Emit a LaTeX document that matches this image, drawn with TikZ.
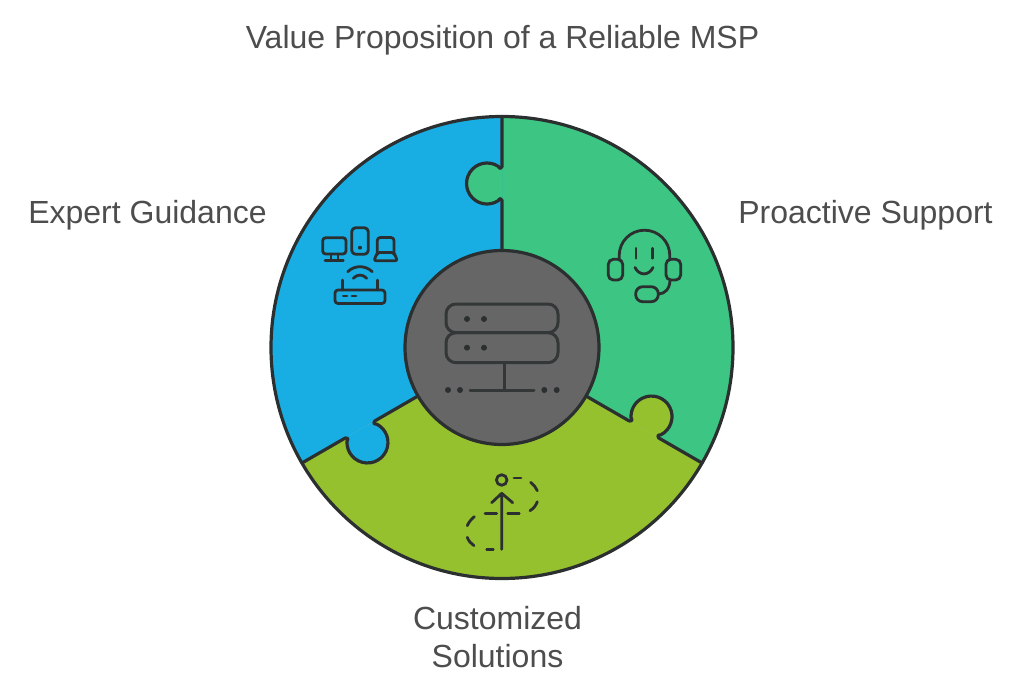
\documentclass[tikz,border=0pt]{standalone}
\usepackage{fontspec}
\setmainfont{Liberation Sans}
\definecolor{tabblue}{HTML}{18AEE3}
\definecolor{tabgreen}{HTML}{3CC583}
\definecolor{tablime}{HTML}{95C12F}
\definecolor{hubgrey}{HTML}{666666}
\definecolor{inkdark}{HTML}{2B2F2F}
\definecolor{labelgrey}{HTML}{4D4D4D}
\tikzset{
	seamline/.style={draw=inkdark,line width=3.2pt,line join=round},
	iconline/.style={draw=inkdark,line width=3pt,line cap=round,line join=round},
	iconthin/.style={draw=inkdark,line width=2.8pt,line cap=round,line join=round},
	labeltext/.style={text=labelgrey,font=\fontsize{32}{38}\selectfont,align=center,inner sep=0pt}
}
\newcommand{\tabcurve}{.. controls (0,178.5) and (-2.5,178.5) .. (-3.8,181.2) arc[start angle=57,end angle=303,radius=20.5] .. controls (-2.5,149.5) and (0,149.5) .. (0,147)}
\begin{document}
\begin{tikzpicture}[x=1pt,y=1pt]
	\useasboundingbox (-502,-348.5) rectangle (522,347.5);
	% pieces
	\foreach \r/\c in {0/tabgreen,-120/tablime,120/tabblue}{
		\begin{scope}[rotate=\r]
			\fill[\c] (0,0) -- (90:231) arc[start angle=90,end angle=-30,radius=231] -- cycle;
		\end{scope}
	}
	\foreach \r/\c in {0/tabgreen,-120/tablime,120/tabblue}{
		\begin{scope}[rotate=\r]
			\fill[\c] (0,181) \tabcurve -- cycle;
			\draw[seamline] (0,231) -- (0,181) \tabcurve -- (0,90);
		\end{scope}
	}
	\draw[seamline] (0,0) circle (231);
	\filldraw[seamline,fill=hubgrey] (0,0) circle (97);
	% server
	\draw[iconline,draw=inkdark!85!hubgrey,rounded corners=10] (-56,14.8) rectangle (56,43.5);
	\draw[iconline,draw=inkdark!85!hubgrey,rounded corners=10] (-56,-15.2) rectangle (56,14.8);
	\foreach \x in {-35,-18}{
		\foreach \y in {28.5,-0.2} {
			\fill[inkdark] (\x,\y) circle (3);
	}}
	\foreach \x in {-54,-42,42.3,54.7}{
		\fill[inkdark] (\x,-42.5) circle (3);
	}
	\draw[iconline,draw=inkdark!85!hubgrey] (2.7,-15.2) -- (2.7,-43) (-32,-43) -- (32,-43);
	% devices
	\draw[iconthin,rounded corners=3] (-179.3,93.5) rectangle (-156,109.8);
	\draw[iconthin] (-171,93.5) -- (-171,87) (-164,93.5) -- (-164,87) (-177,86.8) -- (-158.7,86.8);
	\draw[iconthin,rounded corners=4] (-150.3,93.2) rectangle (-133.7,119.8);
	\fill[inkdark] (-142,99.8) circle (2);
	\draw[iconthin,rounded corners=3] (-124.7,93) -- (-124.7,110) -- (-108,110) -- (-108,93);
	\draw[iconthin,rounded corners=2] (-124.7,95) -- (-128,86.8) -- (-104.7,86.8) -- (-108,95) -- cycle;
	\draw[iconthin] (-154.3,75.8) .. controls (-147,82.5) and (-137,82.5) .. (-129.7,75.8);
	\draw[iconthin] (-148.7,69.2) .. controls (-145,73.5) and (-139,73.5) .. (-135.3,69.2);
	\draw[iconthin,rounded corners=3] (-167,44) rectangle (-117,57.5);
	\draw[iconthin] (-159.7,57.5) -- (-159.7,67.5) (-124.3,57.5) -- (-124.3,67.5);
	\draw[iconthin] (-158.7,51.5) -- (-155,51.5) (-150,51.5) -- (-146,51.5);
	% headset
	\draw[iconthin] (117.2,87.5) -- (117.2,92) arc[start angle=180,end angle=0,radius=25.3] -- (167.8,87.5);
	\draw[iconthin,rounded corners=5] (106.3,67.5) rectangle (120.7,88.2);
	\draw[iconthin,rounded corners=5] (164,67.5) rectangle (178.7,88.2);
	\draw[iconthin,rounded corners=7] (133.7,45.8) rectangle (156.3,60.8);
	\draw[iconthin] (168,67.5) .. controls (168,59) and (163,53.5) .. (156.3,53.5);
	\draw[iconthin] (134,99.2) -- (134,89.2) (150.7,99.2) -- (150.7,89.2);
	\draw[iconthin] (133,80) .. controls (137,71.5) and (147,71.5) .. (151,80);
	% arrow
	\draw[iconthin] (-0.3,-132.5) circle (5.3);
	\draw[iconthin] (-0.3,-201.8) -- (-0.3,-145.8) (-10.3,-155.2) -- (-0.3,-145.8) -- (10.7,-155.2);
	\draw[iconthin] (12,-130.5) -- (19,-130.5) (-17,-165.8) -- (-5.3,-165.8) (5.7,-165.8) -- (17.3,-165.8) (-15.3,-201.8) -- (-8.7,-201.8);
	\draw[iconthin] (28.7,-134.8) .. controls (31.5,-137) and (34,-140) .. (35.3,-143.2);
	\draw[iconthin] (35.3,-154.2) .. controls (34,-158) and (31.5,-161) .. (28,-163.2);
	\draw[iconthin] (-27.7,-169.2) .. controls (-31,-172) and (-33.5,-175) .. (-34.7,-178.2);
	\draw[iconthin] (-34.7,-189.8) .. controls (-33.5,-193.5) and (-31,-196) .. (-28,-198.2);
	% labels
	\node(title) at(0.5,307)[labeltext]{Value Proposition of a Reliable MSP};
	\node(guidance) at(-354.5,132)[labeltext]{Expert Guidance};
	\node(support) at(363.5,132)[labeltext]{Proactive Support};
	\node(solutions) at(-4.5,-290)[labeltext]{Customized\\Solutions};
\end{tikzpicture}
\end{document}
